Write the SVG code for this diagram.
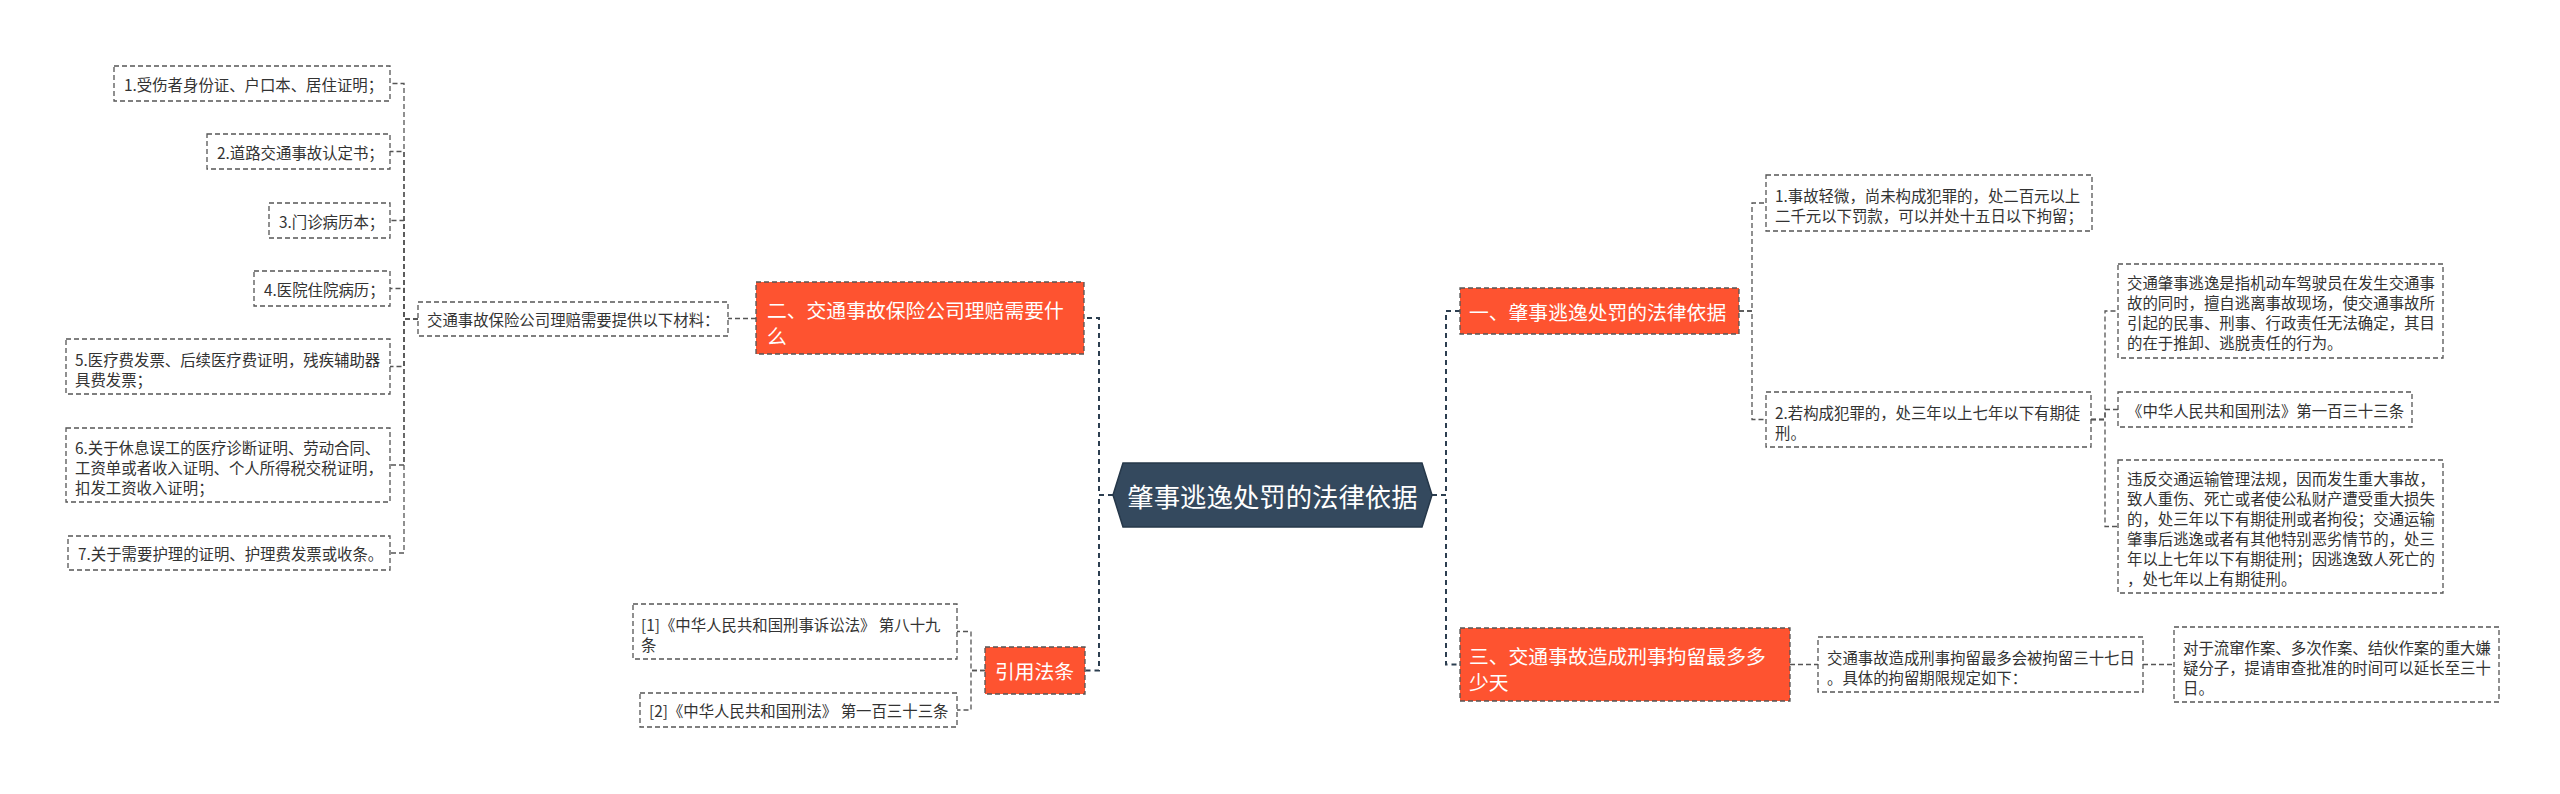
<svg xmlns="http://www.w3.org/2000/svg" width="2560" height="794" viewBox="0 0 2560 794">
<style>
text{font-family:"Microsoft YaHei","Noto Sans CJK SC","Noto Sans",sans-serif;dominant-baseline:central}
.s{font-size:15.4px;fill:#333}
.o{font-size:19.8px;fill:#fff}
.c{font-size:26.4px;fill:#fff}
.box{fill:#fff;stroke:#555;stroke-width:1.3;stroke-dasharray:5 3}
.obox{fill:#FE5330;stroke:#555;stroke-width:1.3;stroke-dasharray:5 3}
.ln{fill:none;stroke:#555;stroke-width:1.3;stroke-dasharray:5 3}
.mln{fill:none;stroke:#2c3e50;stroke-width:2;stroke-dasharray:5 4}
</style>
<rect width="2560" height="794" fill="#fff"/>
<g id="connectors">
<path class="mln" d="M1113 495 H1099 V318 H1084"/>
<path class="mln" d="M1113 495 H1099 V670.5 H1085"/>
<path class="mln" d="M1432 495 H1446 V311 H1460"/>
<path class="mln" d="M1432 495 H1446 V664.5 H1460"/>
<path class="ln" d="M756 318.5 H728"/>
<path class="ln" d="M418 319 H404 V83.5 H390"/>
<path class="ln" d="M418 319 H404 V151.5 H390"/>
<path class="ln" d="M418 319 H404 V220.5 H390"/>
<path class="ln" d="M418 319 H404 V288.5 H390"/>
<path class="ln" d="M418 319 H404 V366.5 H390"/>
<path class="ln" d="M418 319 H404 V465 H390"/>
<path class="ln" d="M418 319 H404 V553 H390"/>
<path class="ln" d="M985 670.5 H971 V631.5 H957"/>
<path class="ln" d="M985 670.5 H971 V710 H957"/>
<path class="ln" d="M1739 311 H1752 V203 H1766"/>
<path class="ln" d="M1739 311 H1752 V419.5 H1766"/>
<path class="ln" d="M2091 419.5 H2105 V311 H2118"/>
<path class="ln" d="M2091 419.5 H2105 V409.5 H2118"/>
<path class="ln" d="M2091 419.5 H2105 V526.5 H2118"/>
<path class="ln" d="M1790 664.5 H1818"/>
<path class="ln" d="M2143 664.5 H2174"/>
</g>
<g id="center">
<polygon points="1113,495 1123,463 1422,463 1432,495 1422,527 1123,527" fill="#34495E" stroke="#26384a" stroke-width="1.5"/>
<text class="c" x="1272.5" y="495" text-anchor="middle">肇事逃逸处罚的法律依据</text>
</g>
<g id="b2">
<rect class="obox" x="756" y="282" width="328" height="72"/>
<text class="o" x="767" y="309">二、交通事故保险公司理赔需要什</text>
<text class="o" x="767" y="335">么</text>
</g>
<g id="mat">
<rect class="box" x="418" y="302" width="310" height="34"/>
<text class="s" x="427" y="319">交通事故保险公司理赔需要提供以下材料：</text>
</g>
<g id="n1">
<rect class="box" x="114" y="66" width="276" height="35"/>
<text class="s" x="124" y="83.5">1.受伤者身份证、户口本、居住证明；</text>
</g>
<g id="n2">
<rect class="box" x="207" y="134" width="183" height="35"/>
<text class="s" x="217" y="151.5">2.道路交通事故认定书；</text>
</g>
<g id="n3">
<rect class="box" x="269" y="203" width="121" height="35"/>
<text class="s" x="279" y="220.5">3.门诊病历本；</text>
</g>
<g id="n4">
<rect class="box" x="254" y="271" width="136" height="35"/>
<text class="s" x="264" y="288.5">4.医院住院病历；</text>
</g>
<g id="n5">
<rect class="box" x="66" y="339" width="324" height="55"/>
<text class="s" x="75" y="359">5.医疗费发票、后续医疗费证明，残疾辅助器</text>
<text class="s" x="75" y="379">具费发票；</text>
</g>
<g id="n6">
<rect class="box" x="66" y="428" width="324" height="74"/>
<text class="s" x="75" y="447">6.关于休息误工的医疗诊断证明、劳动合同、</text>
<text class="s" x="75" y="467">工资单或者收入证明、个人所得税交税证明，</text>
<text class="s" x="75" y="487">扣发工资收入证明；</text>
</g>
<g id="n7">
<rect class="box" x="68" y="536" width="322" height="34"/>
<text class="s" x="78" y="553">7.关于需要护理的证明、护理费发票或收条。</text>
</g>
<g id="cite">
<rect class="obox" x="985" y="647" width="100" height="47"/>
<text class="o" x="995" y="670.5">引用法条</text>
</g>
<g id="c1">
<rect class="box" x="633" y="604" width="324" height="55"/>
<text class="s" x="641" y="624">[1]《中华人民共和国刑事诉讼法》 第八十九</text>
<text class="s" x="641" y="644">条</text>
</g>
<g id="c2">
<rect class="box" x="640" y="693" width="317" height="34"/>
<text class="s" x="649" y="710">[2]《中华人民共和国刑法》 第一百三十三条</text>
</g>
<g id="b1">
<rect class="obox" x="1460" y="288" width="279" height="46"/>
<text class="o" x="1469" y="311">一、肇事逃逸处罚的法律依据</text>
</g>
<g id="r1">
<rect class="box" x="1766" y="175" width="326" height="56"/>
<text class="s" x="1775" y="195">1.事故轻微，尚未构成犯罪的，处二百元以上</text>
<text class="s" x="1775" y="215">二千元以下罚款，可以并处十五日以下拘留；</text>
</g>
<g id="r2">
<rect class="box" x="1766" y="392" width="325" height="55"/>
<text class="s" x="1775" y="412">2.若构成犯罪的，处三年以上七年以下有期徒</text>
<text class="s" x="1775" y="432">刑。</text>
</g>
<g id="r2a">
<rect class="box" x="2118" y="264" width="325" height="94"/>
<text class="s" x="2127" y="282">交通肇事逃逸是指机动车驾驶员在发生交通事</text>
<text class="s" x="2127" y="302">故的同时，擅自逃离事故现场，使交通事故所</text>
<text class="s" x="2127" y="322">引起的民事、刑事、行政责任无法确定，其目</text>
<text class="s" x="2127" y="342">的在于推卸、逃脱责任的行为。</text>
</g>
<g id="r2b">
<rect class="box" x="2118" y="392" width="294" height="35"/>
<text class="s" x="2127" y="409.5">《中华人民共和国刑法》第一百三十三条</text>
</g>
<g id="r2c">
<rect class="box" x="2118" y="460" width="325" height="133"/>
<text class="s" x="2127" y="478">违反交通运输管理法规，因而发生重大事故，</text>
<text class="s" x="2127" y="498">致人重伤、死亡或者使公私财产遭受重大损失</text>
<text class="s" x="2127" y="518">的，处三年以下有期徒刑或者拘役；交通运输</text>
<text class="s" x="2127" y="538">肇事后逃逸或者有其他特别恶劣情节的，处三</text>
<text class="s" x="2127" y="558">年以上七年以下有期徒刑；因逃逸致人死亡的</text>
<text class="s" x="2127" y="578">，处七年以上有期徒刑。</text>
</g>
<g id="b3">
<rect class="obox" x="1460" y="628" width="330" height="73"/>
<text class="o" x="1469" y="655">三、交通事故造成刑事拘留最多多</text>
<text class="o" x="1469" y="681">少天</text>
</g>
<g id="r3">
<rect class="box" x="1818" y="637" width="325" height="55"/>
<text class="s" x="1827" y="657">交通事故造成刑事拘留最多会被拘留三十七日</text>
<text class="s" x="1827" y="677">。具体的拘留期限规定如下：</text>
</g>
<g id="r3a">
<rect class="box" x="2174" y="627" width="325" height="75"/>
<text class="s" x="2183" y="647">对于流窜作案、多次作案、结伙作案的重大嫌</text>
<text class="s" x="2183" y="667">疑分子，提请审查批准的时间可以延长至三十</text>
<text class="s" x="2183" y="687">日。</text>
</g>
</svg>
